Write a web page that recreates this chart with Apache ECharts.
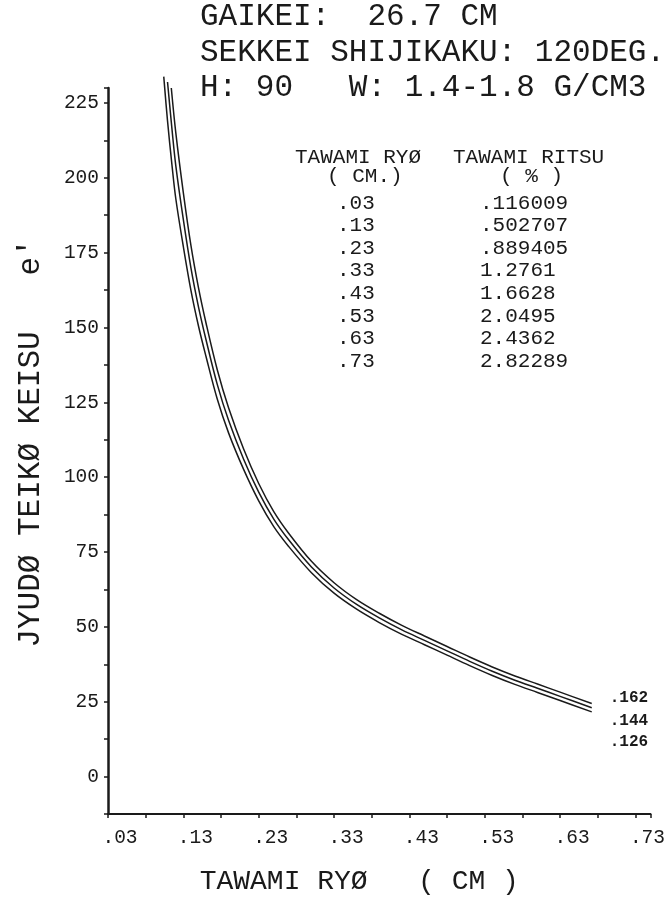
<!DOCTYPE html>
<html>
<head>
<meta charset="utf-8">
<script src="https://cdn.jsdelivr.net/npm/echarts@6/dist/echarts.min.js"></script>
<style>
html,body{margin:0;padding:0;background:#fff;}
#chart{width:668px;height:901px;}
</style>
</head>
<body>
<div id="chart"></div>
<script>
// ---- data ----
const titleLines = ['GAIKEI:  26.7 CM', 'SEKKEI SHIJIKAKU: 120DEG.', 'H: 90   W: 1.4-1.8 G/CM3'];
const tableHeader = ['TAWAMI RYØ', 'TAWAMI RITSU'];
const tableUnits = ['( CM.)', '( % )'];
const tableRyo = ['.03', '.13', '.23', '.33', '.43', '.53', '.63', '.73'];
const tableRitsu = ['.116009', '.502707', '.889405', '1.2761', '1.6628', '2.0495', '2.4362', '2.82289'];
const xAxisTitle = 'TAWAMI RYØ   ( CM )';
const yAxisTitle = 'JYUDØ TEIKØ KEISU   e\u2032';
const curveNames = ['.162', '.144', '.126'];

const xUpper = [0.114, 0.12, 0.13, 0.14, 0.15, 0.16, 0.175, 0.19, 0.21, 0.23, 0.25, 0.27, 0.30, 0.33, 0.36, 0.39, 0.42, 0.45, 0.48, 0.51, 0.54, 0.57, 0.60, 0.63, 0.672];
const yUpper = [230, 215, 195, 177.5, 163.4, 151.6, 135.9, 123.2, 109.4, 97.9, 88.5, 81.2, 71.9, 64.75, 59.1, 54.55, 50.5, 46.95, 43.45, 39.93, 36.62, 33.61, 30.9, 28.2, 24.4];

const xMiddle = [0.109, 0.115, 0.12, 0.13, 0.14, 0.15, 0.16, 0.175, 0.19, 0.21, 0.23, 0.25, 0.27, 0.30, 0.33, 0.36, 0.39, 0.42, 0.45, 0.48, 0.51, 0.54, 0.57, 0.60, 0.63, 0.672];
const yMiddle = [232, 216, 204, 186, 170, 157, 146, 131, 119, 106, 95, 86, 79, 70, 63, 57.5, 53, 49, 45.5, 42, 38.5, 35.2, 32.2, 29.5, 26.8, 23.0];

const xLower = [0.104, 0.109, 0.115, 0.12, 0.13, 0.14, 0.15, 0.16, 0.175, 0.19, 0.21, 0.23, 0.25, 0.27, 0.30, 0.33, 0.36, 0.39, 0.42, 0.45, 0.48, 0.51, 0.54, 0.57, 0.60, 0.63, 0.672];
const yLower = [233.8, 219, 204, 193, 177, 162.5, 150.6, 140.4, 126.1, 114.8, 102.6, 92.1, 83.5, 76.8, 68.1, 61.25, 55.9, 51.45, 47.5, 44.05, 40.55, 37.07, 33.78, 30.79, 28.1, 25.4, 21.6];

// ---- chart ----
const FONT = '"Liberation Mono", "DejaVu Sans Mono", monospace';
const INK = '#1a1a1a';
const chart = echarts.init(document.getElementById('chart'), null, {renderer: 'canvas'});

function pairs(xs, ys) { return xs.map((x, i) => [x, ys[i]]); }

const curves = [[xUpper, yUpper], [xMiddle, yMiddle], [xLower, yLower]];
const endOffsets = [[10, -6], [10, 13], [10, 30]];

const graphics = [];
titleLines.forEach((t, i) => {
  graphics.push({type: 'text', x: 200, y: 17 + i * 35.5,
    style: {text: t, font: '31px ' + FONT, fill: INK, verticalAlign: 'middle', align: 'left'}});
});
graphics.push({type: 'text', x: 295, y: 157, style: {text: tableHeader[0], font: '21px ' + FONT, fill: INK, verticalAlign: 'middle'}});
graphics.push({type: 'text', x: 453, y: 157, style: {text: tableHeader[1], font: '21px ' + FONT, fill: INK, verticalAlign: 'middle'}});
graphics.push({type: 'text', x: 327, y: 176, style: {text: tableUnits[0], font: '21px ' + FONT, fill: INK, verticalAlign: 'middle'}});
graphics.push({type: 'text', x: 500, y: 176, style: {text: tableUnits[1], font: '21px ' + FONT, fill: INK, verticalAlign: 'middle'}});
tableRyo.forEach((t, i) => {
  graphics.push({type: 'text', x: 337, y: 203 + i * 22.6, style: {text: t, font: '21px ' + FONT, fill: INK, verticalAlign: 'middle'}});
  graphics.push({type: 'text', x: 480, y: 203 + i * 22.6, style: {text: tableRitsu[i], font: '21px ' + FONT, fill: INK, verticalAlign: 'middle'}});
});

const option = {
  backgroundColor: '#ffffff',
  animation: false,
  grid: {left: 108, right: 13, top: 88, bottom: 75, containLabel: false},
  xAxis: {
    type: 'value', min: 0.03, max: 0.75, interval: 0.05,
    name: xAxisTitle, nameLocation: 'middle', nameGap: 54,
    nameTextStyle: {fontFamily: FONT, fontSize: 28, color: INK, padding: [0, 40, 0, 0]},
    axisLine: {show: true, onZero: false, lineStyle: {color: INK, width: 2}},
    axisTick: {show: true, length: 4, lineStyle: {color: INK, width: 1.5}},
    splitLine: {show: false},
    axisLabel: {
      fontFamily: FONT, fontSize: 19.5, color: INK, margin: 14, padding: [0, 0, 0, 24],
      showMaxLabel: true, showMinLabel: true,
      formatter: function (v) {
        const k = Math.round(v * 100) - 3;
        if (k % 10 !== 0) return '';
        return v.toFixed(2).replace(/^0/, '');
      }
    }
  },
  yAxis: {
    type: 'value', min: -12.5, max: 230, interval: 12.5,
    name: yAxisTitle, nameLocation: 'middle', nameGap: 62, nameRotate: 90,
    nameTextStyle: {fontFamily: FONT, fontSize: 31, color: INK, padding: [0, 0, 0, 16]},
    axisLine: {show: true, onZero: false, lineStyle: {color: INK, width: 2.5}},
    axisTick: {show: true, length: 4, lineStyle: {color: INK, width: 1.5}},
    splitLine: {show: false},
    axisLabel: {
      fontFamily: FONT, fontSize: 19.5, color: INK, margin: 9,
      formatter: function (v) {
        if (v < 0 || Math.abs(v % 25) > 1e-6) return '';
        return String(v);
      }
    }
  },
  graphic: graphics,
  series: curves.map((c, i) => ({
    type: 'line',
    name: curveNames[i],
    data: pairs(c[0], c[1]),
    smooth: 0.35,
    showSymbol: false,
    clip: false,
    lineStyle: {color: INK, width: 1.5},
    endLabel: {
      show: true, formatter: curveNames[i], offset: endOffsets[i],
      fontFamily: FONT, fontSize: 16, fontWeight: 'bold', color: INK
    }
  }))
};
chart.setOption(option);
</script>
</body>
</html>
